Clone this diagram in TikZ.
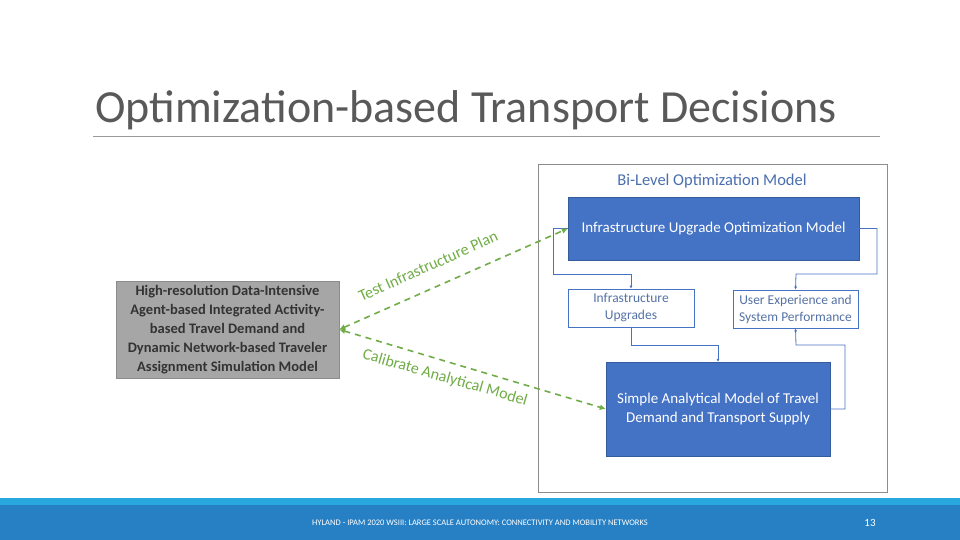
\documentclass[tikz,border=0pt]{standalone}
\usepackage{fontspec}
\setmainfont{Carlito}
\usetikzlibrary{arrows.meta}
\definecolor{bl}{HTML}{4472C4}
\definecolor{bltxt}{HTML}{4A6FB0}
\definecolor{gr}{HTML}{70AD47}
\definecolor{ft1}{HTML}{29A8E0}
\definecolor{ft2}{HTML}{2780C4}
\tikzset{
 bluebox/.style={draw=bl!80!black,fill=bl,text=white,font=\fontsize{15}{19}\selectfont,align=center,inner sep=0pt},
 whitebox/.style={draw=bl,line width=0.8pt,fill=white,text=bltxt!80!gray,font=\fontsize{13.5}{17}\selectfont,align=center,inner sep=0pt},
 conn/.style={draw=bl,line width=0.8pt,-{Latex[length=3pt,width=3pt]}},
 gconn/.style={draw=gr,line width=1.6pt,dash pattern=on 6pt off 5pt,{Latex[length=6pt,width=6pt]}-{Latex[length=6pt,width=6pt]}},
 glabel/.style={text=gr,font=\fontsize{16}{18}\selectfont}
}
\begin{document}
\begin{tikzpicture}[x=1pt,y=-1pt]
\useasboundingbox (0,0) rectangle (960,540);
\fill[white] (0,0) rectangle (960,540);
\node[anchor=base west,text=black!65,font=\fontsize{46}{50}\selectfont,inner sep=0pt] (title) at (95,123) {Optimization-based Transport Decisions};
\draw[black!40,line width=0.6pt] (93,136) -- (880,136);
\fill[ft1] (0,498) rectangle (960,505);
\fill[ft2] (0,505) rectangle (960,540);
\node[text=white,font=\fontsize{8.5}{9}\selectfont] (foot) at (480,523) {HYLAND - IPAM 2020 WSIII: LARGE SCALE AUTONOMY: CONNECTIVITY AND MOBILITY NETWORKS};
\node[text=white,font=\fontsize{11}{12}\selectfont] (pg) at (870,523) {13};
% outer
\draw[draw=black!45,line width=1pt] (538,165) rectangle (887,492);
\node[text=bltxt,font=\fontsize{16.5}{19}\selectfont] (bt) at (712,181) {Bi-Level Optimization Model};
\node[bluebox,minimum width=291pt,minimum height=63pt] (iu) at (713.5,228.5) {\raisebox{0pt}{Infrastructure Upgrade Optimization Model}};
\node[whitebox,minimum width=126pt,minimum height=38pt] (up) at (631,308) {Infrastructure\\Upgrades};
\node[whitebox,minimum width=125pt,minimum height=38pt] (ux) at (795.5,309) {User Experience and\\System Performance};
\node[bluebox,minimum width=224pt,minimum height=94pt] (sa) at (718,409) {Simple Analytical Model of Travel\\Demand and Transport Supply};
\node[fill=black!35,draw=black!45,text=black!80,font=\fontsize{14.5}{19}\selectfont\bfseries,align=center,minimum width=223pt,minimum height=97pt,inner sep=0pt] (hr) at (227.5,329.5) {High-resolution Data-Intensive\\Agent-based Integrated Activity-\\based Travel Demand and\\Dynamic Network-based Traveler\\Assignment Simulation Model};
% connectors
\draw[conn] (iu.west) -- (553,228.5) -- (553,274) -- (631,274) -- (up.north);
\draw[conn] (iu.east) -- (877,228.5) -- (877,274) -- (796,274) -- (ux.north);
\draw[conn] (up.south) -- (631,345) -- (718,345) -- (sa.north);
\draw[conn] (sa.east) -- (845,409) -- (845,345) -- (796,345) -- (ux.south);
% green
\draw[gconn] (hr.east) -- (iu.west);
\draw[gconn] (hr.east) -- (sa.west);
\node[glabel,rotate=24] (l1) at (428,266) {Test Infrastructure Plan};
\node[glabel,rotate=-16] (l2) at (445,378) {Calibrate Analytical Model};
\end{tikzpicture}
\end{document}
